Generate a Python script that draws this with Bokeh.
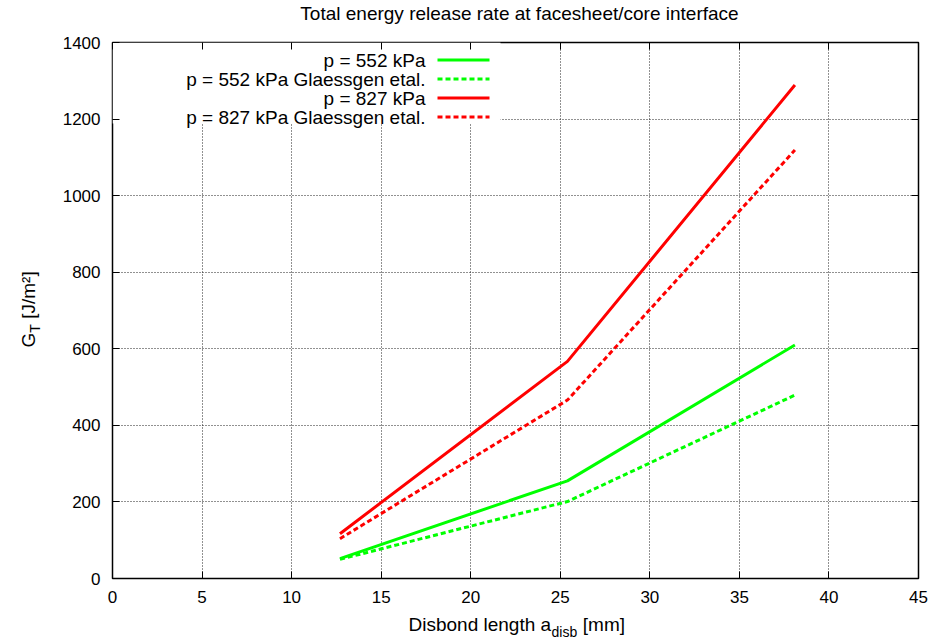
import math
from bokeh.plotting import figure
from bokeh.models import Range1d, LinearAxis, FixedTicker, Label
from bokeh.embed import file_html
from bokeh.resources import INLINE

# ---------------- data ----------------
x_mm = [12.7, 25.4, 38.1]
g_552 = [52, 255, 610]
g_552_glaessgen = [50, 201, 479]
g_827 = [117, 567, 1289]
g_827_glaessgen = [104, 466, 1119]

series_labels = ["p = 552 kPa", "p = 552 kPa Glaessgen etal.",
                 "p = 827 kPa", "p = 827 kPa Glaessgen etal."]
x_ticks = [0, 5, 10, 15, 20, 25, 30, 35, 40, 45]
y_ticks = [0, 200, 400, 600, 800, 1000, 1200, 1400]
title_text = "Total energy release rate at facesheet/core interface"
NB = "\u00a0"
x_label_main = "Disbond length a" + NB * 6 + "[mm]"
x_label_sub = "disb"
y_label_main, y_label_sub, y_label_unit = "G", "T", "[J/m\u00b2]"

# ---------------- layout ----------------
W, H = 934, 641
L, R, T, B = 112, 16, 42, 63
X0, X1 = 0, 45
Y0, Y1 = 0, 1400
FW, FH = W - L - R, H - T - B
FONT = "Liberation Sans"
GREEN, RED = "#00ff00", "#ff0000"


def dx(px):
    return X0 + (px - L) * (X1 - X0) / FW


def dy(py):
    return Y0 + (H - B - py) * (Y1 - Y0) / FH


p = figure(width=W, height=H, x_range=Range1d(X0, X1), y_range=Range1d(Y0, Y1),
           output_backend="svg", toolbar_location=None,
           min_border_left=L, min_border_right=R, min_border_top=T, min_border_bottom=B)
p.title.visible = False
p.background_fill_color = "white"
p.border_fill_color = "white"
p.outline_line_color = "black"
p.outline_line_width = 1.5

# grid
p.xgrid.ticker = FixedTicker(ticks=x_ticks)
p.ygrid.ticker = FixedTicker(ticks=y_ticks)
for g in (p.xgrid, p.ygrid):
    g.grid_line_color = "#222222"
    g.grid_line_dash = "1 2"
    g.grid_line_width = 1


def style_axis(ax, ticks, show_labels=True):
    ax.ticker = FixedTicker(ticks=ticks)
    ax.axis_line_color = None
    ax.major_tick_in = 7
    ax.major_tick_out = 0
    ax.major_tick_line_color = "black"
    ax.major_tick_line_width = 1
    ax.minor_tick_line_color = None
    ax.major_label_text_font = FONT
    ax.major_label_text_font_size = "17px" if show_labels else "0px"
    ax.major_label_text_color = "black"
    if not show_labels:
        ax.major_label_standoff = 0
        ax.major_label_overrides = {t: "" for t in ticks}


style_axis(p.xaxis[0], x_ticks)
style_axis(p.yaxis[0], y_ticks)
p.xaxis[0].major_label_standoff = 12
p.yaxis[0].major_label_standoff = 12

top_ax = LinearAxis()
right_ax = LinearAxis()
style_axis(top_ax, x_ticks, show_labels=False)
style_axis(right_ax, y_ticks, show_labels=False)
p.add_layout(top_ax, "above")
p.add_layout(right_ax, "right")

# legend background (hides grid behind the key)
p.quad(left=X0, right=dx(500), bottom=dy(123), top=Y1,
       fill_color="white", line_color=None)

# ---------------- data lines ----------------
series = [(g_552, GREEN, "solid"), (g_552_glaessgen, GREEN, "5 3"),
          (g_827, RED, "solid"), (g_827_glaessgen, RED, "5 3")]
for ys, col, dash in series:
    p.line(x_mm, ys, line_color=col, line_width=3, line_dash=dash)

# ---------------- key (gnuplot style: text then sample) ----------------
row_py = [59.5, 78.5, 97.5, 116.5]
for (ys, col, dash), lab, py in zip(series, series_labels, row_py):
    p.add_layout(Label(x=dx(425), y=dy(py), text=lab, text_align="right",
                       text_baseline="middle", text_font=FONT,
                       text_font_size="19px", text_color="black"))
    p.line([dx(437), dx(489)], [dy(py), dy(py)], line_color=col,
           line_width=3, line_dash=dash)


def put(text, px, py, fs, side, align="left", angle=0.0):
    p.add_layout(Label(x=dx(px), y=dy(py), text=text, angle=angle,
                       text_align=align, text_baseline="alphabetic",
                       text_font=FONT, text_font_size=f"{fs}px",
                       text_color="black"), side)


# title and x-axis subscript live in the top panel (room there)
put(title_text, 519, 13, 19, "above", align="center")
put(x_label_sub, 551, 631, 14, "above")
# x-axis label
put(x_label_main, 408, 624, 19, "below")
# y-axis label, rotated
up = math.pi / 2
put(y_label_main, 28, 347, 19, "left", angle=up)
put(y_label_sub, 34, 332.2, 14, "left", angle=up)
put(y_label_unit, 28, 318.3, 19, "left", angle=up)

open("out.html", "w").write(file_html(p, INLINE))
